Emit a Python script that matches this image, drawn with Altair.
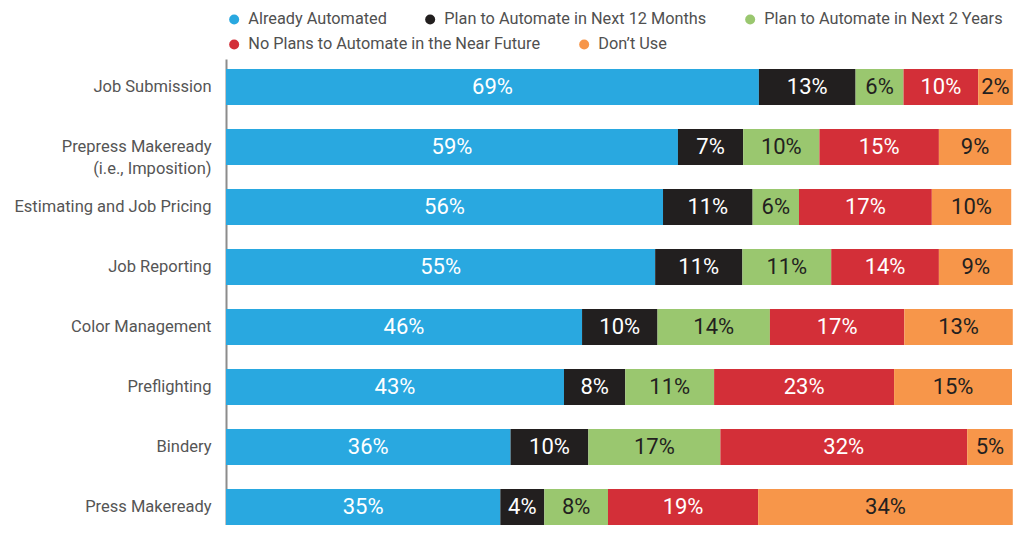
import altair as alt
import pandas as pd

categories = [
    "Job Submission",
    "Prepress Makeready (i.e., Imposition)",
    "Estimating and Job Pricing",
    "Job Reporting",
    "Color Management",
    "Preflighting",
    "Bindery",
    "Press Makeready",
]
series = [
    "Already Automated",
    "Plan to Automate in Next 12 Months",
    "Plan to Automate in Next 2 Years",
    "No Plans to Automate in the Near Future",
    "Don\u2019t Use",
]
# printed percentages (labels)
already = [69, 59, 56, 55, 46, 43, 36, 35]
next12 = [13, 7, 11, 11, 10, 8, 10, 4]
next2y = [6, 10, 6, 11, 14, 11, 17, 8]
noplans = [10, 15, 17, 14, 17, 23, 32, 19]
dontuse = [2, 9, 10, 9, 13, 15, 5, 34]
# segment lengths as drawn in the picture (% of bar length)
already_len = [67.8, 57.5, 55.6, 54.6, 45.3, 43.0, 36.2, 34.9]
next12_len = [12.3, 8.3, 11.4, 11.1, 9.6, 7.8, 9.9, 5.6]
next2y_len = [6.1, 9.7, 5.9, 11.3, 14.3, 11.3, 16.8, 8.1]
noplans_len = [9.5, 15.2, 16.9, 13.7, 17.1, 22.9, 31.4, 19.1]
dontuse_len = [4.4, 9.2, 10.1, 9.4, 13.8, 15.0, 5.8, 32.4]
colors = ["#29a8e0", "#221f1f", "#9ac76f", "#d32f38", "#f7964a"]
text_colors = ["#ffffff", "#ffffff", "#231f20", "#ffffff", "#231f20"]

values = [already, next12, next2y, noplans, dontuse]
lengths = [already_len, next12_len, next2y_len, noplans_len, dontuse_len]
rows = []
for s_i, s in enumerate(series):
    for c, v, ln in zip(categories, values[s_i], lengths[s_i]):
        rows.append({"category": c, "series": s, "value": v, "length": ln, "order": s_i,
                     "tcolor": text_colors[s_i], "label": f"{v}%"})
df = pd.DataFrame(rows)

FONT = "Roboto"
LEG = dict(
    title=None, orient="none", direction="horizontal",
    symbolType="circle", symbolSize=100, symbolStrokeWidth=0,
    labelFont=FONT, labelFontSize=16.3, labelColor="#505050",
    labelOffset=6, columnPadding=35, labelLimit=400, padding=0,
)

y_enc = alt.Y(
    "category:N",
    sort=categories,
    title=None,
    scale=alt.Scale(paddingInner=0.4, paddingOuter=0.0833, align=1.0),
    axis=alt.Axis(
        domainColor="#8c8c8c", domainWidth=2, ticks=False, grid=False,
        labelFont=FONT, labelFontSize=16.5, labelColor="#555555", labelLineHeight=22,
        labelPadding=15, minExtent=218, maxExtent=218, labelLimit=220,
        labelExpr="datum.label == 'Prepress Makeready (i.e., Imposition)' ? ['Prepress Makeready', '(i.e., Imposition)'] : datum.label",
    ),
)
x_enc = alt.X("x0:Q", scale=alt.Scale(domain=[0, 100], nice=False, zero=True), axis=None)

base = alt.Chart(df).transform_stack(
    stack="length", groupby=["category"], as_=["x0", "x1"],
    sort=[alt.SortField("order", order="ascending")],
).transform_calculate(mid="(datum.x0 + datum.x1) / 2")

bars_a = base.transform_filter(alt.datum.order < 3).mark_bar().encode(
    y=y_enc, x=x_enc, x2="x1:Q",
    color=alt.Color(
        "series:N",
        scale=alt.Scale(domain=series[:3], range=colors[:3]),
        sort=series[:3],
        legend=alt.Legend(legendX=0, legendY=-48, **LEG),
    ),
)
bars_b = base.transform_filter(alt.datum.order >= 3).mark_bar().encode(
    y=y_enc, x=x_enc, x2="x1:Q",
    fill=alt.Fill(
        "series:N",
        scale=alt.Scale(domain=series[3:], range=colors[3:]),
        sort=series[3:],
        legend=alt.Legend(legendX=0, legendY=-23, **LEG),
    ),
)

labels = base.mark_text(font=FONT, fontSize=22, baseline="middle", align="center").encode(
    y=alt.Y("category:N", sort=categories),
    x=alt.X("mid:Q"),
    text="label:N",
    color=alt.Color("tcolor:N", scale=None, legend=None),
)

chart = (
    alt.layer(bars_a, bars_b, labels)
    .resolve_scale(color="independent", fill="independent")
    .properties(width=786, height=466, padding={"left": 0, "top": 3, "right": 0, "bottom": 0})
    .configure_view(stroke=None)
)

chart.save("out.html", embed_options={"renderer": "svg", "actions": False})
